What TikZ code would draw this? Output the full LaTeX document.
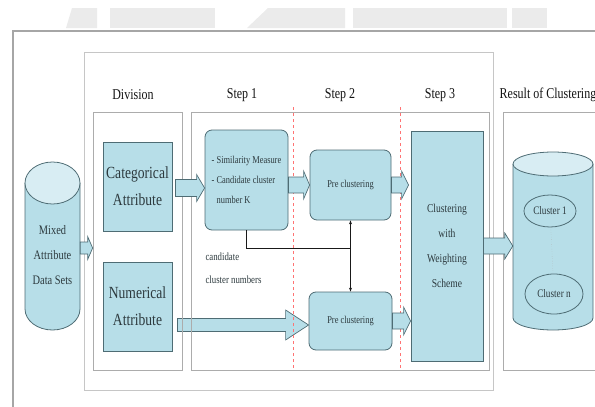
\documentclass[tikz,border=0pt]{standalone}
\usepackage{fontspec}
\setmainfont{Liberation Serif}[FakeStretch=0.8]
\usepackage{tikz}
\usetikzlibrary{calc,arrows.meta,shapes.geometric}
\definecolor{boxfill}{RGB}{183,222,232}
\definecolor{capfill}{RGB}{216,237,243}
\definecolor{boxline}{RGB}{78,108,116}
\definecolor{boxtext}{RGB}{45,58,62}
\newcommand{\fatarrow}[5]{%
  \path[fat] let \p1=(#1), \p2=(#2) in
    (\x1,\y1+#3) -- (\x2-#5,\y1+#3) -- (\x2-#5,\y1+#4) -- (\x2,\y1)
    -- (\x2-#5,\y1-#4) -- (\x2-#5,\y1-#3) -- (\x1,\y1-#3) -- cycle;}

\begin{document}
\begin{tikzpicture}[x=1pt,y=-1pt,
    box/.style={draw=boxline,fill=boxfill,line width=.8pt,inner sep=0pt,text=boxtext,align=center},
    rbox/.style={box,rounded corners=7pt},
    panel/.style={draw=gray!65,line width=.7pt,inner sep=0pt},
    lbl/.style={font=\fontsize{15}{15}\selectfont,text=gray!15!black},
    fat/.style={draw=boxline,fill=boxfill,line width=.7pt},
    cyl/.style={draw=boxline,fill=boxfill,line width=.8pt},
    link/.style={draw=gray!20!black,line width=.7pt}]
  \useasboundingbox (0,0) rectangle (595,407);
  \clip (0,0) rectangle (595,407);
  \fill[gray!16] (66,28) -- (72,8) -- (97,8) -- (97,28) -- cycle;
  \fill[gray!16] (110,8) rectangle (215,28);
  \fill[gray!16] (247,28) -- (268,8) -- (345,8) -- (345,28) -- cycle;
  \fill[gray!16] (353,8) rectangle (507,28);
  \fill[gray!16] (512,8) rectangle (547,28);
  \draw[gray!70,line width=1.2pt] (13,410) -- (13,31) -- (600,31);
  \draw[gray!45,line width=.8pt] (84,52) rectangle (493,390);

  \node[lbl] (ldiv) at (133,95) {Division};
  \node[lbl] (lst1) at (242,95) {Step 1};
  \node[lbl] (lst2) at (340,95) {Step 2};
  \node[lbl] (lst3) at (440,95) {Step 3};
  \node[lbl] (lres) at (548,95) {Result of Clustering};

  \draw[cyl] (25,183) -- (25,309) arc[start angle=180,end angle=0,x radius=27.5,y radius=21] -- (80,183);
  \draw[cyl,fill=capfill] (52.5,183) ellipse[x radius=27.5,y radius=21];
  \node[font=\fontsize{13}{25}\selectfont,minimum width=55,inner sep=0pt,text=boxtext,align=center] (mixed) at (52.5,255) {Mixed\\Attribute\\Data Sets};

  \node[box,minimum width=69,minimum height=89,font=\fontsize{17}{27}\selectfont] (cat) at (137.5,186.5) {Categorical\\Attribute};
  \node[box,minimum width=69,minimum height=89,font=\fontsize{17}{27}\selectfont] (num) at (137.5,306.5) {Numerical\\Attribute};
  \node[rbox,minimum width=83,minimum height=100,align=left,font=\fontsize{10.5}{20}\selectfont] (st1) at (246.5,180) {- Similarity Measure\\- Candidate cluster\\\hphantom{- }number K};
  \node[rbox,minimum width=81,minimum height=70,font=\fontsize{10.5}{12}\selectfont] (pre1) at (350.5,185) {Pre clustering};
  \node[rbox,minimum width=83,minimum height=58,font=\fontsize{10.5}{12}\selectfont] (pre2) at (350.5,321) {Pre clustering};
  \node[box,minimum width=72,minimum height=230,font=\fontsize{12}{25}\selectfont] (st3) at (447,246) {Clustering\\with\\Weighting\\Scheme};
  \node[font=\fontsize{11}{23}\selectfont,align=left,anchor=west,text=boxtext] (cand) at (202,268) {candidate\\cluster numbers};

  \draw[cyl] (513,164) -- (513,318) arc[start angle=180,end angle=0,x radius=40,y radius=12] -- (593,164);
  \draw[cyl,fill=capfill] (553,164) ellipse[x radius=40,y radius=12];
  \node[minimum width=80,minimum height=1pt,inner sep=0pt] (res) at (553,246) {};
  \node[box,ellipse,minimum width=52,minimum height=32,font=\fontsize{11.5}{12}\selectfont] (c1) at (550,211) {Cluster 1};
  \node[box,ellipse,minimum width=58,minimum height=40,font=\fontsize{11.5}{12}\selectfont] (cn) at (554,294) {Cluster n};
  \draw[gray!60,dotted] (c1) -- (cn);

  \fatarrow{$(num.east |- pre2.west)+(5,4)$}{pre2.west}{6.5pt}{15pt}{23pt}

  \node[panel,minimum width=89,minimum height=258] (divp) at (137.5,241) {};
  \node[panel,minimum width=298,minimum height=258] (stepp) at (340,241) {};
  \node[panel,minimum width=100,minimum height=258] (resp) at (553,241) {};
  \draw[red!55,dashed,line width=.6pt] (293,107) -- (293,370);
  \draw[red!55,dashed,line width=.6pt] (400,107) -- (400,370);

  \fatarrow{$(mixed.east)+(0,-7)$}{divp.west}{6pt}{11.5pt}{5pt}
  \fatarrow{$(cat.east)+(3,1.5)$}{st1.west}{8.5pt}{13.5pt}{8pt}
  \fatarrow{st1.east |- pre1.west}{pre1.west}{8pt}{14pt}{6pt}
  \fatarrow{pre1.east}{$(st3.west)+(-2,0)$}{8pt}{14pt}{7pt}
  \fatarrow{pre2.east}{st3.west}{8pt}{14pt}{7pt}
  \fatarrow{st3.east}{res.west}{8pt}{13pt}{8pt}

  \path (pre1.south) ++(0,28) coordinate (jn);
  \draw[link] (st1.south) |- (jn);
  \draw[link,{Stealth[length=4pt,width=3pt]}-{Stealth[length=4pt,width=3pt]}] (pre1.south) -- (pre2.north);
\end{tikzpicture}
\end{document}
